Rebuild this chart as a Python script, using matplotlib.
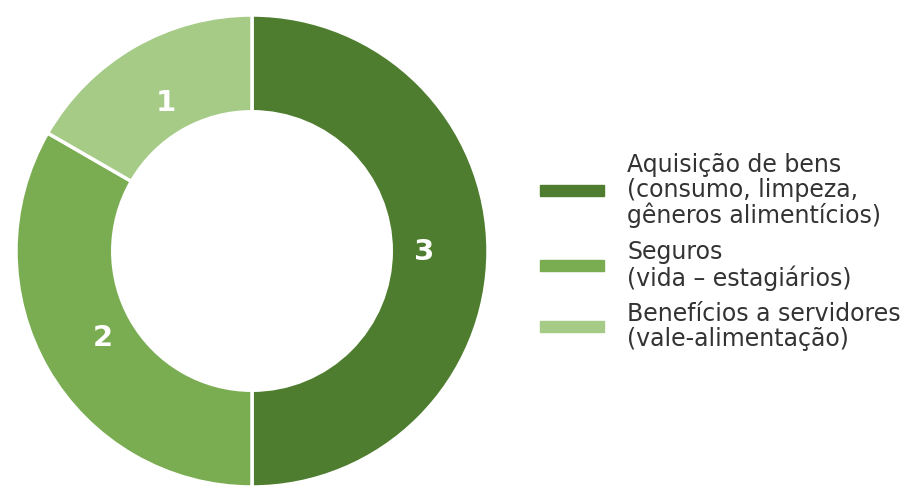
import matplotlib.pyplot as plt
from matplotlib.patches import Patch

# legend categories and slice values
categories = [
    "Aquisição de bens\n(consumo, limpeza,\ngêneros alimentícios)",
    "Seguros\n(vida – estagiários)",
    "Benefícios a servidores\n(vale-alimentação)",
]
values = [3, 2, 1]
colors = ["#4e7d2f", "#7aad52", "#a5cb87"]

fig = plt.figure(figsize=(9.09, 4.89), dpi=100)
# square axes for the donut, placed in pixels
cx, cy, r = 252, 252, 236
axis = fig.add_axes([(cx - r) / 909, (489 - cy - r) / 489, 2 * r / 909, 2 * r / 489])

wedges, texts = axis.pie(
    values,
    colors=colors,
    startangle=90,
    counterclock=False,
    radius=1,
    labels=[str(v) for v in values],
    labeldistance=0.73,
    wedgeprops=dict(width=0.41, edgecolor="white", linewidth=2.5),
    textprops=dict(color="white", fontsize=21, fontweight="bold"),
)
for t in texts:
    t.set_horizontalalignment("center")
    t.set_verticalalignment("center")
axis.set_xlim(-1, 1)
axis.set_ylim(-1, 1)

handles = [Patch(color=c, label=l) for c, l in zip(colors, categories)]
leg = fig.legend(
    handles=handles,
    loc="center left",
    bbox_to_anchor=(540 / 909, 1 - 252 / 489),
    frameon=False,
    fontsize=17,
    handlelength=2.7,
    handleheight=0.35,
    handletextpad=1.0,
    labelspacing=0.5,
    borderaxespad=0,
    borderpad=0,
)
for t in leg.get_texts():
    t.set_color("#333333")
    t.set_linespacing(1.05)

fig.savefig("out.png", dpi=100)
